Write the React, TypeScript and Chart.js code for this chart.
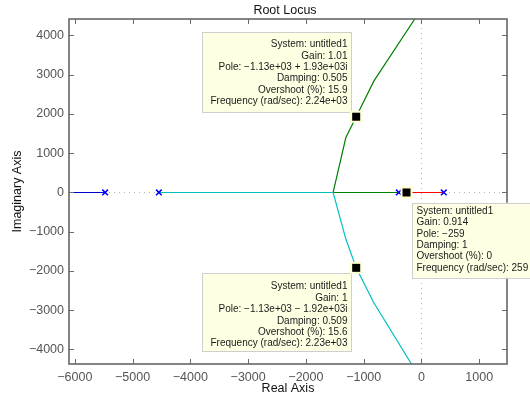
import { useEffect, useRef } from 'react';
import { Chart, registerables } from 'chart.js';

Chart.register(...registerables);

// ---- data ----
const X_MIN = -6100;
const X_MAX = 1480;
const Y_MIN = -4370;
const Y_MAX = 4420;
const xTicks = [-6000, -5000, -4000, -3000, -2000, -1000, 0, 1000];
const yTicks = [-4000, -3000, -2000, -1000, 0, 1000, 2000, 3000, 4000];

const poles = [
  { x: -5475, y: 0 },
  { x: -4545, y: 0 },
  { x: -393, y: 0 },
  { x: 386, y: 0 },
];
const branchBlue = [
  { x: -6100, y: 0 },
  { x: -5475, y: 0 },
];
const branchCyan = [
  { x: -4545, y: 0 },
  { x: -1529, y: 0 },
  { x: -1310, y: -1180 },
  { x: -1130, y: -1920 },
  { x: -825, y: -2810 },
  { x: -173, y: -4370 },
];
const branchGreen = [
  { x: -393, y: 0 },
  { x: -1529, y: 0 },
  { x: -1310, y: 1393 },
  { x: -1130, y: 1930 },
  { x: -825, y: 2836 },
  { x: -116, y: 4420 },
];
const branchRed = [
  { x: -259, y: 0 },
  { x: 386, y: 0 },
];
const zeroLineH = [
  { x: X_MIN, y: 0 },
  { x: X_MAX, y: 0 },
];
const zeroLineV = [
  { x: 0, y: Y_MIN },
  { x: 0, y: Y_MAX },
];
const tipPoints = [
  { x: -1130, y: 1930 },
  { x: -259, y: 0 },
  { x: -1130, y: -1920 },
];
const tipTexts = [
  [
    'System: untitled1',
    'Gain: 1.01',
    'Pole: \u22121.13e+03 + 1.93e+03i',
    'Damping: 0.505',
    'Overshoot (%): 15.9',
    'Frequency (rad/sec): 2.24e+03',
  ],
  [
    'System: untitled1',
    'Gain: 0.914',
    'Pole: \u2212259',
    'Damping: 1',
    'Overshoot (%): 0',
    'Frequency (rad/sec): 259',
  ],
  [
    'System: untitled1',
    'Gain: 1',
    'Pole: \u22121.13e+03 \u2212 1.92e+03i',
    'Damping: 0.509',
    'Overshoot (%): 15.6',
    'Frequency (rad/sec): 2.23e+03',
  ],
];
const titleText = 'Root Locus';
const xTitle = 'Real Axis';
const yTitle = 'Imaginary Axis';

// ---- layout / style of tips (relative to marker pixel) ----
const tipLayout = [
  { dx: -153.7, dy: -84.6, w: 149, h: 80, align: 'right', tx: 145, ty: 12.3, step: 11.4 },
  { dx: 5, dy: 10.3, w: 125, h: 75, align: 'left', tx: 5, ty: 8.6, step: 11.3 },
  { dx: -153.7, dy: 5.3, w: 149, h: 78, align: 'right', tx: 145, ty: 13.5, step: 11.4 },
];

const FONT = '"Liberation Sans", Arial, Helvetica, sans-serif';

const fmt = (v: number) => (v < 0 ? '\u2212' + Math.abs(v) : String(v));

const framePlugin = {
  id: 'frame',
  afterDatasetsDraw(chart: any) {
    const { ctx, chartArea: a, scales } = chart;
    const x = scales.x;
    const y = scales.y;
    ctx.save();
    ctx.strokeStyle = '#6a6a6a';
    ctx.lineWidth = 1;
    ctx.beginPath();
    for (const v of xTicks) {
      const px = Math.round(x.getPixelForValue(v)) + 0.5;
      ctx.moveTo(px, a.bottom);
      ctx.lineTo(px, a.bottom - 5);
      ctx.moveTo(px, a.top);
      ctx.lineTo(px, a.top + 5);
    }
    for (const v of yTicks) {
      const py = Math.round(y.getPixelForValue(v)) + 0.5;
      ctx.moveTo(a.left, py);
      ctx.lineTo(a.left + 5, py);
      ctx.moveTo(a.right, py);
      ctx.lineTo(a.right - 5, py);
    }
    ctx.stroke();
    ctx.lineWidth = 1.6;
    ctx.strokeStyle = '#666666';
    ctx.strokeRect(a.left, a.top, a.right - a.left, a.bottom - a.top);
    ctx.restore();
  },
  afterDraw(chart: any) {
    const { ctx, chartArea: a, scales } = chart;
    const x = scales.x;
    const y = scales.y;
    ctx.save();
    // titles
    ctx.fillStyle = '#111';
    ctx.font = `12.5px ${FONT}`;
    ctx.textAlign = 'center';
    ctx.textBaseline = 'middle';
    ctx.fillText(titleText, (a.left + a.right) / 2 - 3, 11);
    ctx.fillText(xTitle, (a.left + a.right) / 2, 389);
    ctx.save();
    ctx.translate(18, (a.top + a.bottom) / 2);
    ctx.rotate(-Math.PI / 2);
    ctx.fillText(yTitle, 0, 0);
    ctx.restore();

    // data tips
    tipPoints.forEach((p, i) => {
      const L = tipLayout[i];
      const mx = x.getPixelForValue(p.x);
      const my = y.getPixelForValue(p.y);
      const bx = mx + L.dx;
      const by = my + L.dy;
      ctx.fillStyle = '#ffffe4';
      ctx.fillRect(bx, by, L.w, L.h);
      ctx.strokeStyle = '#cfcfcf';
      ctx.lineWidth = 1;
      ctx.strokeRect(Math.round(bx) + 0.5, Math.round(by) + 0.5, L.w, L.h);
      ctx.fillStyle = '#1a1a1a';
      ctx.font = `10px ${FONT}`;
      ctx.textAlign = L.align as CanvasTextAlign;
      ctx.textBaseline = 'middle';
      tipTexts[i].forEach((t, k) => {
        ctx.fillText(t, bx + L.tx, by + L.ty + k * L.step);
      });
      // marker
      ctx.fillStyle = '#ffffd0';
      ctx.fillRect(mx - 6, my - 6, 12, 12);
      ctx.fillStyle = '#000';
      ctx.fillRect(mx - 4, my - 4, 8, 8);
    });
    ctx.restore();
  },
};

export default function App() {
  const ref = useRef<HTMLCanvasElement | null>(null);
  useEffect(() => {
    if (!ref.current) return;
    const line = (data: any[], color: string, extra: any = {}) => ({
      data,
      showLine: true,
      borderColor: color,
      backgroundColor: color,
      borderWidth: 1.2,
      pointRadius: 0,
      pointHoverRadius: 0,
      ...extra,
    });
    // Chart.js draws datasets last-to-first: earlier entries end up on top.
    const chart = new Chart(ref.current, {
      type: 'scatter',
      data: {
        datasets: [
          {
            data: poles,
            showLine: false,
            pointStyle: 'crossRot',
            pointRadius: 4,
            borderColor: '#0000ff',
            borderWidth: 1.5,
          },
          line(branchBlue, '#0000cc'),
          line(branchCyan, '#00bfbf'),
          line(branchGreen, '#008000'),
          line(branchRed, '#ff0000'),
          line(zeroLineH, '#b5b5b5', { borderDash: [1, 4], borderWidth: 1 }),
          line(zeroLineV, '#b5b5b5', { borderDash: [1, 4], borderWidth: 1 }),
        ],
      },
      options: {
        animation: false,
        responsive: true,
        maintainAspectRatio: false,
        events: [],
        layout: { padding: { left: 0, top: 19, right: 23, bottom: 0 } },
        plugins: {
          legend: { display: false },
          title: { display: false },
          tooltip: { enabled: false },
        },
        scales: {
          x: {
            type: 'linear',
            min: X_MIN,
            max: X_MAX,
            grid: { display: false, drawTicks: false },
            border: { display: false },
            afterBuildTicks: (s: any) => {
              s.ticks = xTicks.map((v) => ({ value: v }));
            },
            afterFit: (s: any) => {
              s.height = 32;
            },
            ticks: {
              padding: 6,
              maxRotation: 0,
              autoSkip: false,
              color: '#555',
              font: { family: FONT, size: 12.5 },
              callback: (v: any) => fmt(Number(v)),
            },
          },
          y: {
            type: 'linear',
            min: Y_MIN,
            max: Y_MAX,
            grid: { display: false, drawTicks: false },
            border: { display: false },
            afterBuildTicks: (s: any) => {
              s.ticks = yTicks.map((v) => ({ value: v }));
            },
            afterFit: (s: any) => {
              s.width = 69;
            },
            ticks: {
              padding: 5,
              autoSkip: false,
              color: '#555',
              font: { family: FONT, size: 12.5 },
              callback: (v: any) => fmt(Number(v)),
            },
          },
        },
      },
      plugins: [framePlugin],
    } as any);
    return () => chart.destroy();
  }, []);
  return (
    <div style={{ position: 'absolute', left: 0, top: 0, width: 530, height: 396, background: '#fff' }}>
      <canvas ref={ref} />
    </div>
  );
}
